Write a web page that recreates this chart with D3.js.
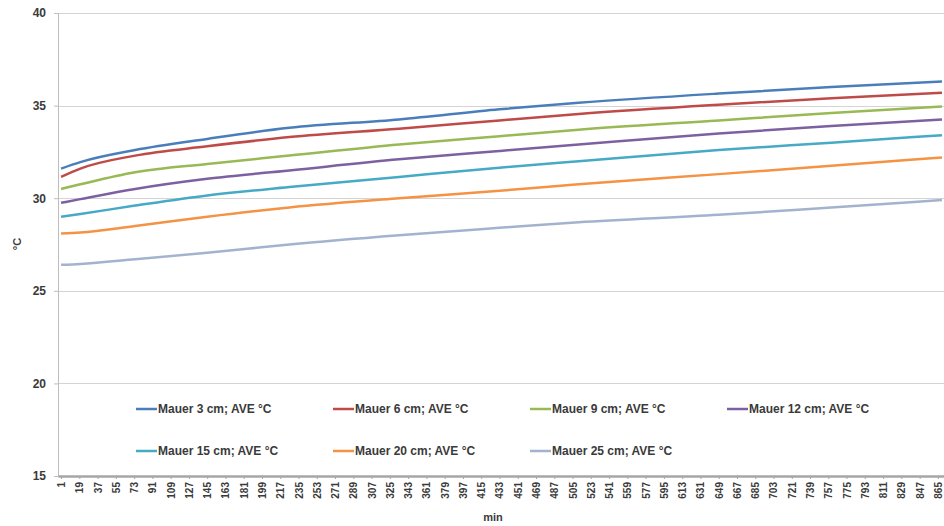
<!DOCTYPE html>
<html>
<head>
<meta charset="utf-8">
<script src="https://cdn.jsdelivr.net/npm/d3@7"></script>
<style>
  body { margin: 0; background: #fff; }
  svg { display: block; font-family: "Liberation Sans", Arial, sans-serif; }
  .grid line { stroke: #d4d4d4; stroke-width: 1; }
  .axis text { fill: #3a3a3a; font-weight: bold; }
  .legend text { fill: #3a3a3a; font-weight: bold; font-size: 12px; }
</style>
</head>
<body>
<svg id="chart"></svg>
<script>
const minutes = [1, 20, 74, 145, 226, 334, 433, 511, 649, 760, 869];

const mauer3  = [31.6, 31.95, 32.6, 33.2, 33.8, 34.25, 34.8, 35.15, 35.65, 36.0, 36.3];
const mauer6  = [31.15, 31.6, 32.3, 32.8, 33.3, 33.75, 34.2, 34.55, 35.05, 35.4, 35.7];
const mauer9  = [30.5, 30.75, 31.4, 31.85, 32.3, 32.9, 33.35, 33.7, 34.2, 34.6, 34.95];
const mauer12 = [29.75, 29.95, 30.5, 31.05, 31.5, 32.1, 32.55, 32.9, 33.5, 33.9, 34.25];
const mauer15 = [29.0, 29.15, 29.6, 30.15, 30.6, 31.15, 31.65, 32.0, 32.6, 33.0, 33.4];
const mauer20 = [28.1, 28.15, 28.5, 29.0, 29.5, 30.0, 30.4, 30.75, 31.3, 31.75, 32.2];
const mauer25 = [26.4, 26.45, 26.7, 27.05, 27.5, 28.0, 28.4, 28.7, 29.1, 29.5, 29.9];

const seriesNames = ['Mauer 3 cm; AVE °C', 'Mauer 6 cm; AVE °C', 'Mauer 9 cm; AVE °C', 'Mauer 12 cm; AVE °C',
                     'Mauer 15 cm; AVE °C', 'Mauer 20 cm; AVE °C', 'Mauer 25 cm; AVE °C'];
const seriesValues = [mauer3, mauer6, mauer9, mauer12, mauer15, mauer20, mauer25];
const seriesColors = ['#4a7ebb', '#be4b48', '#98b954', '#7d60a0', '#46aac5', '#f39343', '#a3b3cf'];

const xTicks = d3.range(1, 866, 18);   // 1, 19, 37 ... 865
const yTicks = [15, 20, 25, 30, 35, 40];

class TempChart {
  constructor(_config) {
    this.config = {
      parentElement: _config.parentElement,
      containerWidth: 944,
      containerHeight: 526,
      margin: {top: 13, right: 0, bottom: 50, left: 58}
    };
    this.initVis();
  }

  initVis() {
    let vis = this;
    vis.width = vis.config.containerWidth - vis.config.margin.left - vis.config.margin.right;
    vis.height = vis.config.containerHeight - vis.config.margin.top - vis.config.margin.bottom;

    vis.svg = d3.select(vis.config.parentElement)
        .attr('width', vis.config.containerWidth)
        .attr('height', vis.config.containerHeight);

    vis.chart = vis.svg.append('g')
        .attr('transform', `translate(${vis.config.margin.left},${vis.config.margin.top})`);

    vis.xScale = d3.scaleLinear().domain([-2, 871]).range([0, vis.width]);
    vis.yScale = d3.scaleLinear().domain([15, 40]).range([vis.height, 0]);

    vis.data = seriesNames.map((name, i) => ({
      name: name,
      color: seriesColors[i],
      values: minutes.map((m, j) => ({m: m, v: seriesValues[i][j]}))
    }));

    vis.renderVis();
  }

  renderVis() {
    let vis = this;

    // horizontal gridlines
    vis.chart.append('g')
        .attr('class', 'grid')
        .selectAll('line')
        .data(yTicks.filter(d => d > 15))
        .join('line')
        .attr('x1', 0)
        .attr('x2', vis.width)
        .attr('y1', d => Math.round(vis.yScale(d)) + 0.5)
        .attr('y2', d => Math.round(vis.yScale(d)) + 0.5);

    // y axis
    const yAxisG = vis.chart.append('g')
        .attr('class', 'axis y-axis')
        .call(d3.axisLeft(vis.yScale).tickValues(yTicks).tickSize(4).tickPadding(8));
    yAxisG.selectAll('text').style('font-size', '12px');
    yAxisG.select('.domain').attr('stroke', '#bdbdbd');
    yAxisG.selectAll('.tick line').attr('stroke', '#bdbdbd');

    // x axis
    const xAxisG = vis.chart.append('g')
        .attr('class', 'axis x-axis')
        .attr('transform', `translate(0,${vis.height})`)
        .call(d3.axisBottom(vis.xScale).tickValues(xTicks).tickFormat(d3.format('d')).tickSize(3).tickSizeOuter(0));
    xAxisG.select('.domain').attr('stroke', '#a6a6a6').attr('stroke-width', 2.5);
    xAxisG.selectAll('.tick line').attr('stroke', '#a6a6a6');
    xAxisG.selectAll('text')
        .style('font-size', '10px')
        .attr('text-anchor', 'end')
        .attr('dy', '0.35em')
        .attr('transform', 'translate(0,6) rotate(-90)')
        .attr('x', 0)
        .attr('y', 0);

    // axis titles
    vis.svg.append('text')
        .attr('transform', `translate(21,244) rotate(-90)`)
        .attr('text-anchor', 'middle')
        .style('font-size', '11px')
        .style('font-weight', 'bold')
        .attr('fill', '#3a3a3a')
        .text('°C');
    vis.svg.append('text')
        .attr('x', 493)
        .attr('y', 521)
        .attr('text-anchor', 'middle')
        .style('font-size', '11px')
        .style('font-weight', 'bold')
        .attr('fill', '#3a3a3a')
        .text('min');

    // series lines
    const line = d3.line()
        .x(d => vis.xScale(d.m))
        .y(d => vis.yScale(d.v))
        .curve(d3.curveMonotoneX);

    vis.chart.selectAll('.series')
        .data(vis.data)
        .join('path')
        .attr('class', 'series')
        .attr('fill', 'none')
        .attr('stroke', d => d.color)
        .attr('stroke-width', 2.5)
        .attr('d', d => line(d.values));

    // legend, 4 items per row
    const legend = vis.svg.append('g').attr('class', 'legend');
    const item = legend.selectAll('g')
        .data(vis.data)
        .join('g')
        .attr('transform', (d, i) => `translate(${136 + (i % 4) * 197},${409 + Math.floor(i / 4) * 42})`);
    item.append('line')
        .attr('x1', 0).attr('x2', 21)
        .attr('stroke', d => d.color)
        .attr('stroke-width', 2.5);
    item.append('text')
        .attr('x', 22)
        .attr('dy', '0.35em')
        .text(d => d.name);
  }
}

new TempChart({parentElement: '#chart'});
</script>
</body>
</html>
